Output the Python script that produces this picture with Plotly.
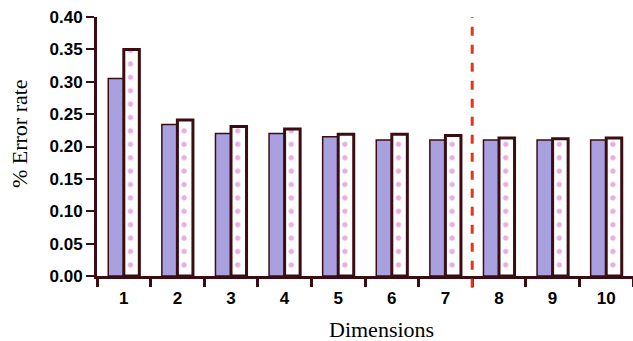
import plotly.graph_objects as go

categories = ["1", "2", "3", "4", "5", "6", "7", "8", "9", "10"]
series_a = [0.305, 0.234, 0.220, 0.220, 0.215, 0.210, 0.210, 0.210, 0.210, 0.210]
series_b = [0.350, 0.241, 0.231, 0.227, 0.219, 0.219, 0.217, 0.213, 0.212, 0.213]
y_ticks = [0.00, 0.05, 0.10, 0.15, 0.20, 0.25, 0.30, 0.35, 0.40]
x_title = "Dimensions"
y_title = "% Error rate"
divider_after = 7

dark = "#3a0d12"

fig = go.Figure()
fig.add_trace(go.Bar(
    x=categories, y=series_a, name="A",
    marker=dict(color="#a9a0e0", line=dict(color=dark, width=1.5)),
))
fig.add_trace(go.Bar(
    x=categories, y=series_b, name="B",
    marker=dict(color="white", line=dict(color=dark, width=3),
                pattern=dict(shape=".", fgcolor="#cf5fbf", bgcolor="white",
                             size=13.4, solidity=0.12)),
))

fig.add_shape(type="line", xref="x", yref="paper",
              x0=divider_after - 0.5, x1=divider_after - 0.5, y0=-0.045, y1=1.0,
              line=dict(color="#e8341c", width=3, dash="dash"))

fig.add_annotation(text=x_title, xref="paper", yref="paper", x=0.53, y=-0.205,
                   xanchor="center", yanchor="middle", showarrow=False,
                   font=dict(family="Liberation Serif", size=22, color="black"))
fig.add_annotation(text=y_title, xref="paper", yref="paper", x=-0.1455, y=0.548,
                   xanchor="center", yanchor="middle", showarrow=False, textangle=-90,
                   font=dict(family="Liberation Serif", size=22, color="black"))

fig.update_layout(
    width=633, height=341,
    margin=dict(l=97, r=0, t=17, b=65),
    paper_bgcolor="white", plot_bgcolor="white",
    barmode="group", bargap=0.42, bargroupgap=0,
    showlegend=False,
    xaxis=dict(
        type="category", tickson="boundaries", ticks="outside",
        ticklen=8, tickwidth=3, tickcolor=dark,
        showline=True, linecolor=dark, linewidth=3,
        showgrid=False, automargin=False, ticklabelstandoff=5,
        tickfont=dict(family="Liberation Sans", size=17, color="black", weight="bold"),
    ),
    yaxis=dict(
        range=[0, 0.40], tickvals=y_ticks, ticktext=[f"{v:.2f}" for v in y_ticks],
        ticks="outside", ticklen=8, tickwidth=2, tickcolor=dark,
        showline=True, linecolor=dark, linewidth=3,
        showgrid=False, zeroline=False, automargin=False,
        tickfont=dict(family="Liberation Sans", size=17, color="black", weight="bold"),
    ),
)

fig.write_html("out.html", config={"displayModeBar": False},
               post_script="document.body.style.margin='0';document.body.style.overflow='hidden';")
